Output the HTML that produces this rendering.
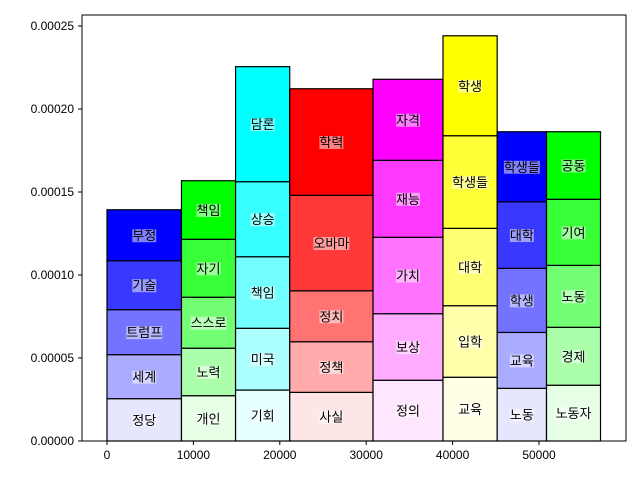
<!DOCTYPE html>
<html><head><meta charset="utf-8"><style>
body{margin:0;background:#fff}
svg text{font-family:"Liberation Sans","Noto Sans CJK KR",sans-serif}
</style></head><body>
<svg id="chart" width="640" height="480" xmlns="http://www.w3.org/2000/svg">
<rect width="640" height="480" fill="#fff"/>
<g id="marks"></g>
<g id="axes"></g>
</svg>
<script>
const widths=[8620,6260,6270,9640,8100,6270,5710,6250];
const baseColors=[[0,0,255],[0,255,0],[0,255,255],[255,0,0],[255,0,255],[255,255,0],[0,0,255],[0,255,0]];
// segment heights bottom -> top
const heights=[
[2.55e-5,2.65e-5,2.71e-5,2.95e-5,3.07e-5],
[2.73e-5,2.86e-5,3.07e-5,3.49e-5,3.53e-5],
[3.07e-5,3.72e-5,4.31e-5,4.52e-5,6.93e-5],
[2.93e-5,3.05e-5,3.07e-5,5.75e-5,6.42e-5],
[3.66e-5,4.01e-5,4.60e-5,4.64e-5,4.88e-5],
[3.84e-5,4.31e-5,4.66e-5,5.58e-5,6.02e-5],
[3.17e-5,3.37e-5,3.86e-5,4.01e-5,4.22e-5],
[3.36e-5,3.49e-5,3.73e-5,3.98e-5,4.07e-5]];
const labels=[
["정당","세계","트럼프","기술","부정"],
["개인","노력","스스로","자기","책임"],
["기회","미국","책임","상승","담론"],
["사실","정책","정치","오바마","학력"],
["정의","보상","가치","재능","자격"],
["교육","입학","대학","학생들","학생"],
["노동","교육","학생","대학","학생들"],
["노동자","경제","노동","기여","공동"]];
const xTicks=[0,10000,20000,30000,40000,50000];
const yTicks=[0,0.00005,0.0001,0.00015,0.0002,0.00025];
const yTickLabels=["0.00000","0.00005","0.00010","0.00015","0.00020","0.00025"];

const L=82,R=626,T=15,B=441;
const x=v=>107+v*0.00864;
const y=v=>441-v*1660000;
const NS="http://www.w3.org/2000/svg";
const marks=document.getElementById('marks'),axes=document.getElementById('axes');
function mk(tag,attrs,parent){const e=document.createElementNS(NS,tag);for(const k in attrs)e.setAttribute(k,attrs[k]);parent.appendChild(e);return e;}
const fades=[0.9,0.67,0.45,0.22,0];
let x0=0;
widths.forEach((w,i)=>{
  let y0=0;
  heights[i].forEach((h,j)=>{
    const f=fades[j],c=baseColors[i].map(v=>Math.round(v+(255-v)*f));
    const px=x(x0),py=y(y0+h),pw=x(x0+w)-x(x0),ph=y(y0)-y(y0+h);
    const r=mk('rect',{x:px,y:py,width:pw,height:ph,fill:`rgb(${c})`,stroke:'#000','stroke-width':1.2},marks);
    
    
    const cx=px+pw/2,cy=py+ph/2;
    const t=mk('text',{x:cx,y:cy+5,'text-anchor':'middle','font-size':13,fill:'#000'},marks);
    t.textContent=labels[i][j];
    
    
    const bb=t.getBBox();
    const bg=mk('rect',{x:bb.x,y:bb.y+1,width:bb.width,height:bb.height-2,fill:'#fff','fill-opacity':0.5},marks);
    marks.insertBefore(bg,t);
    y0+=h;
  });
  x0+=w;
});
const frame=mk('rect',{x:L,y:T,width:R-L,height:B-T,fill:'none',stroke:'#000','stroke-width':1},axes);


xTicks.forEach(v=>{
  mk('line',{x1:x(v),x2:x(v),y1:B,y2:B+4,stroke:'#000'},axes);
  const t=mk('text',{x:x(v),y:B+18,'text-anchor':'middle','font-size':12},axes);
  t.textContent=v;
  
  
});
yTicks.forEach((v,i)=>{
  mk('line',{x1:L-4,x2:L,y1:y(v),y2:y(v),stroke:'#000'},axes);
  const t=mk('text',{x:L-8,y:y(v)+4,'text-anchor':'end','font-size':12},axes);
  t.textContent=yTickLabels[i];
  
  
});
</script>
</body></html>
